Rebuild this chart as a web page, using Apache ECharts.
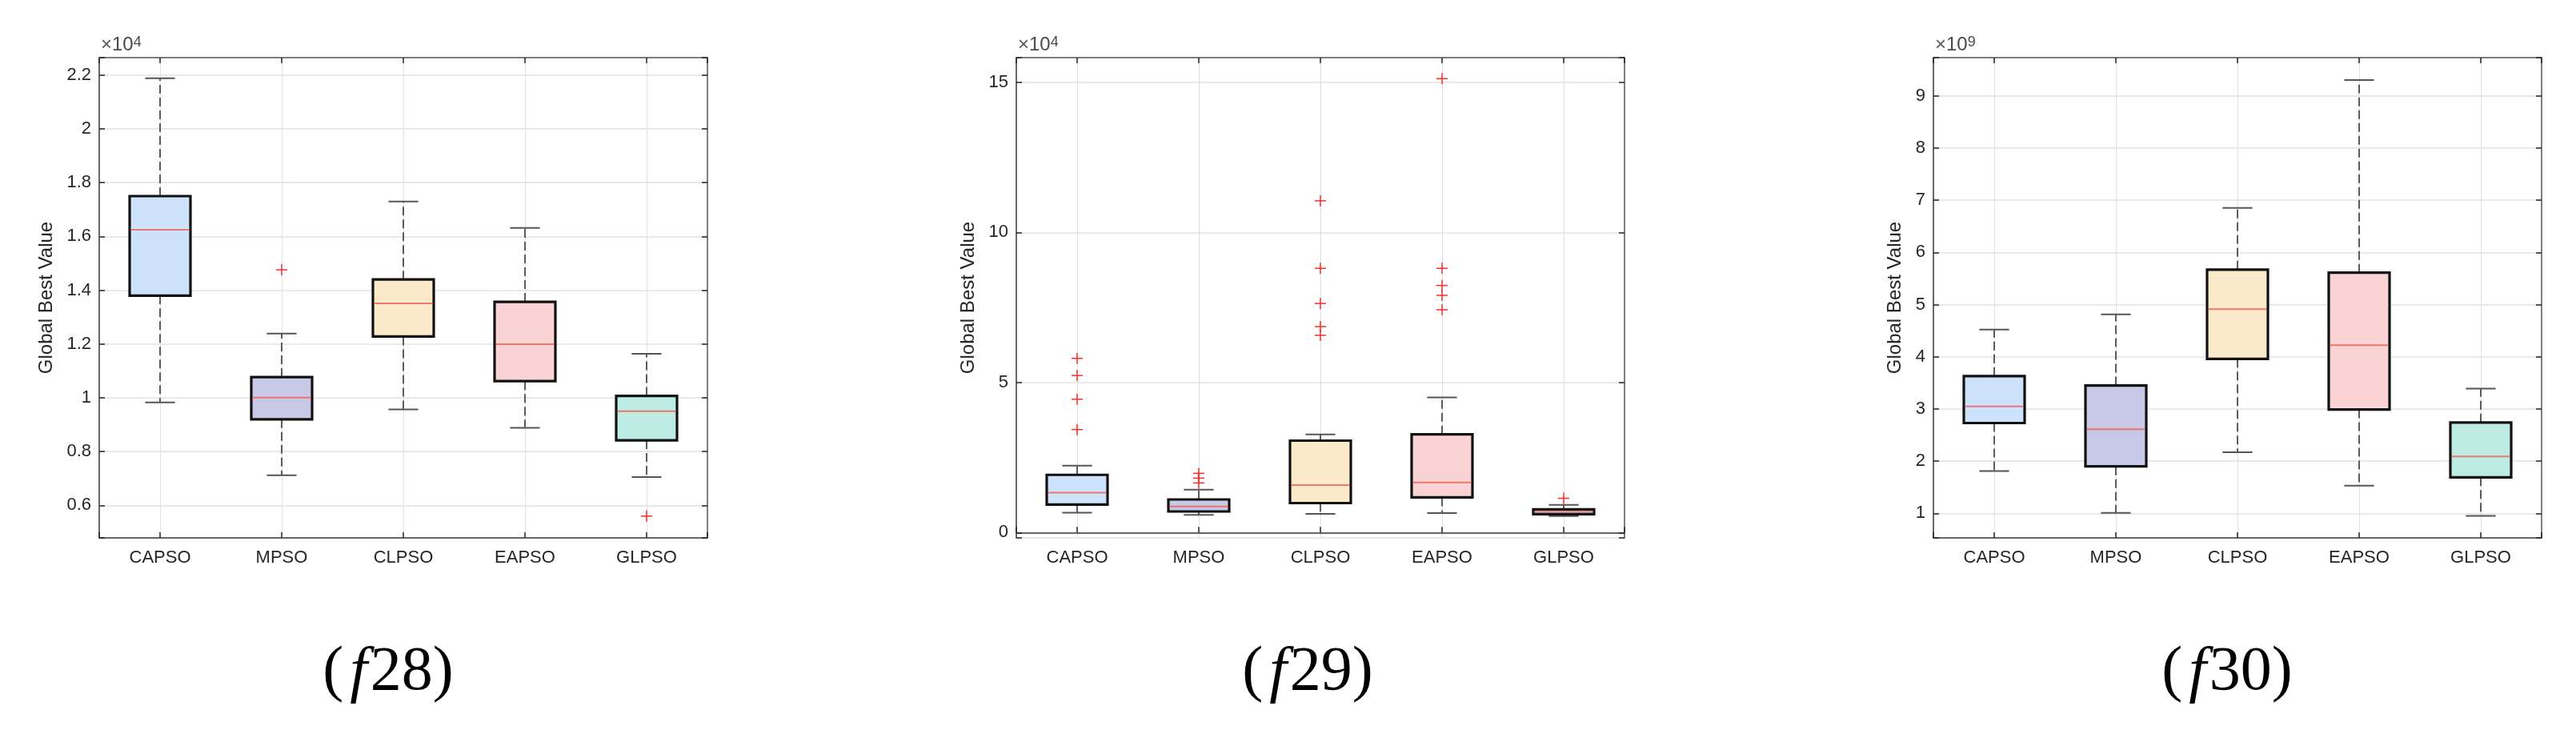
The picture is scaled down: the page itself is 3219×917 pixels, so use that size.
<!DOCTYPE html>
<html>
<head>
<meta charset="utf-8">
<script src="https://cdn.jsdelivr.net/npm/echarts@6/dist/echarts.min.js"></script>
<style>
html,body{margin:0;padding:0;background:#fff}
#main{width:3219px;height:917px}
</style>
</head>
<body>
<div id="main"></div>
<script>
var algorithms = ['CAPSO', 'MPSO', 'CLPSO', 'EAPSO', 'GLPSO'];
var boxColors = ['#cde2fb', '#c8c9e6', '#fcebcb', '#fad4d4', '#bfebe5'];

// each row: [lower whisker, Q1, median, Q3, upper whisker]
// f28, values x10^4
var f28Boxes = [
  [0.983, 1.380, 1.625, 1.750, 2.188],
  [0.712, 0.920, 1.001, 1.077, 1.239],
  [0.957, 1.228, 1.351, 1.440, 1.730],
  [0.888, 1.062, 1.199, 1.357, 1.632],
  [0.705, 0.842, 0.950, 1.007, 1.164]
];
var f28Outliers = [[1, 1.476], [4, 0.560]];
var f28Range = [0.479, 2.265];

// f29, values x10^4
var f29Boxes = [
  [0.66, 0.93, 1.33, 1.92, 2.23],
  [0.59, 0.70, 0.87, 1.10, 1.43],
  [0.62, 0.98, 1.58, 3.06, 3.27],
  [0.65, 1.17, 1.67, 3.27, 4.50],
  [0.55, 0.61, 0.69, 0.77, 0.92]
];
var f29Outliers = [
  [0, 5.80], [0, 5.23], [0, 4.44], [0, 3.43],
  [1, 1.97], [1, 1.81], [1, 1.65],
  [2, 11.05], [2, 8.80], [2, 7.63], [2, 6.86], [2, 6.57],
  [3, 15.12], [3, 8.80], [3, 8.23], [3, 7.90], [3, 7.42],
  [4, 1.14]
];
var f29Range = [-0.18, 15.82];

// f30, values x10^9
var f30Boxes = [
  [1.81, 2.73, 3.05, 3.63, 4.52],
  [1.01, 1.90, 2.61, 3.45, 4.81],
  [2.17, 3.96, 4.91, 5.67, 6.85],
  [1.53, 2.99, 4.22, 5.61, 9.30],
  [0.95, 1.69, 2.09, 2.74, 3.39]
];
var f30Outliers = [];
var f30Range = [0.53, 9.73];

var panels = [
  {boxes: f28Boxes, outliers: f28Outliers, range: f28Range, step: 0.2, exp: '4', tag: '28', left: 124, nameGap: 54, capX: 485},
  {boxes: f29Boxes, outliers: f29Outliers, range: f29Range, step: 5, exp: '4', tag: '29', left: 1270, nameGap: 48, capX: 1634},
  {boxes: f30Boxes, outliers: f30Outliers, range: f30Range, step: 1, exp: '9', tag: '30', left: 2416, nameGap: 36, capX: 2783}
];

var TOP = 72, W = 760, H = 600;
var FONT = "'Liberation Sans', Arial, Helvetica, sans-serif";
var SERIF = "'Liberation Serif', 'Times New Roman', serif";

function renderBox(params, api) {
  var i = api.value(0);
  var lo = api.coord([i, api.value(1)]);
  var q1 = api.coord([i, api.value(2)]);
  var md = api.coord([i, api.value(3)]);
  var q3 = api.coord([i, api.value(4)]);
  var hi = api.coord([i, api.value(5)]);
  var bw = api.size([0.5, 0])[0];
  var cw = api.size([0.245, 0])[0];
  var x = lo[0];
  var dash = {stroke: '#2b2b2b', lineWidth: 1.5, lineDash: [11, 5], fill: null};
  var cap = {stroke: '#555', lineWidth: 2, fill: null};
  return {
    type: 'group',
    children: [
      {type: 'line', shape: {x1: x, y1: q3[1], x2: x, y2: hi[1]}, style: dash},
      {type: 'line', shape: {x1: x, y1: q1[1], x2: x, y2: lo[1]}, style: dash},
      {type: 'line', shape: {x1: x - cw / 2, y1: hi[1], x2: x + cw / 2, y2: hi[1]}, style: cap},
      {type: 'line', shape: {x1: x - cw / 2, y1: lo[1], x2: x + cw / 2, y2: lo[1]}, style: cap},
      {type: 'rect', shape: {x: x - bw / 2, y: q3[1], width: bw, height: q1[1] - q3[1]},
        style: {fill: boxColors[i], stroke: '#111', lineWidth: 3.2}},
      {type: 'line', shape: {x1: x - bw / 2 + 1.5, y1: md[1], x2: x + bw / 2 - 1.5, y2: md[1]},
        style: {stroke: 'rgba(238,100,90,0.85)', lineWidth: 2}}
    ]
  };
}

function renderPlus(params, api) {
  var p = api.coord([api.value(0), api.value(1)]);
  var s = {stroke: '#ff2a2a', lineWidth: 1.5};
  return {
    type: 'group',
    children: [
      {type: 'line', shape: {x1: p[0] - 7, y1: p[1], x2: p[0] + 7, y2: p[1]}, style: s},
      {type: 'line', shape: {x1: p[0], y1: p[1] - 7, x2: p[0], y2: p[1] + 7}, style: s}
    ]
  };
}

function yFormatter(step) {
  return function (v) {
    var k = Math.round(v / step);
    if (Math.abs(v - k * step) > step * 1e-3) return '';
    return String(+(k * step).toFixed(2));
  };
}

function xFormatter(v) {
  var k = Math.round(v);
  if (Math.abs(v - k) > 1e-6 || !algorithms[k]) return '';
  return algorithms[k];
}

var grids = [], xAxes = [], yAxes = [], series = [], graphics = [];

panels.forEach(function (p, g) {
  grids.push({left: p.left, top: TOP, width: W, height: H, show: false});

  var xBase = {
    gridIndex: g, type: 'value', min: -0.5, max: 4.5,
    minInterval: 1, maxInterval: 1, splitNumber: 5
  };
  xAxes.push(Object.assign({}, xBase, {
    position: 'bottom',
    axisLine: {show: true, lineStyle: {color: '#3a3a3a', width: 1.5}},
    axisTick: {show: true, inside: true, length: 7, lineStyle: {color: '#262626', width: 1.5}},
    axisLabel: {formatter: xFormatter, color: '#262626', fontSize: 22, fontFamily: FONT, margin: 14},
    splitLine: {show: true, lineStyle: {color: '#e2e2e2', width: 1}}
  }));
  xAxes.push(Object.assign({}, xBase, {
    position: 'top',
    axisLine: {show: true, onZero: false, lineStyle: {color: '#5a5a5a', width: 1.5}},
    axisTick: {show: true, inside: true, length: 7, lineStyle: {color: '#262626', width: 1.5}},
    axisLabel: {show: false},
    splitLine: {show: false}
  }));

  var yBase = {
    gridIndex: g, type: 'value', min: p.range[0], max: p.range[1],
    minInterval: p.step, maxInterval: p.step,
    splitNumber: Math.round((p.range[1] - p.range[0]) / p.step)
  };
  yAxes.push(Object.assign({}, yBase, {
    position: 'left',
    name: 'Global Best Value', nameLocation: 'middle', nameGap: p.nameGap,
    nameTextStyle: {color: '#262626', fontSize: 24, fontFamily: FONT},
    axisLine: {show: true, onZero: false, lineStyle: {color: '#3a3a3a', width: 1.5}},
    axisTick: {show: true, inside: true, length: 7, lineStyle: {color: '#262626', width: 1.5}},
    axisLabel: {formatter: yFormatter(p.step), color: '#262626', fontSize: 22, fontFamily: FONT, margin: 10},
    splitLine: {show: true, lineStyle: {color: '#e2e2e2', width: 1.5}}
  }));
  yAxes.push(Object.assign({}, yBase, {
    position: 'right',
    axisLine: {show: true, onZero: false, lineStyle: {color: '#5a5a5a', width: 1.5}},
    axisTick: {show: true, inside: true, length: 7, lineStyle: {color: '#262626', width: 1.5}},
    axisLabel: {show: false},
    splitLine: {show: false}
  }));

  series.push({
    type: 'custom', xAxisIndex: 2 * g, yAxisIndex: 2 * g,
    renderItem: renderBox,
    encode: {x: 0, y: [1, 2, 3, 4, 5]},
    data: p.boxes.map(function (b, i) { return [i].concat(b); }),
    z: 3
  });
  series.push({
    type: 'custom', xAxisIndex: 2 * g, yAxisIndex: 2 * g,
    renderItem: renderPlus,
    encode: {x: 0, y: 1},
    data: p.outliers,
    z: 4
  });

  graphics.push({
    type: 'text', x: p.left + 2, y: TOP - 4,
    style: {
      text: '{a|×}{b|10}{c|' + p.exp + '}',
      verticalAlign: 'bottom',
      rich: {
        a: {fontSize: 24, fontFamily: FONT, fill: '#5a5a5a', verticalAlign: 'bottom'},
        b: {fontSize: 24, fontFamily: FONT, fill: '#4a4a4a', verticalAlign: 'bottom'},
        c: {fontSize: 18, fontFamily: FONT, fill: '#4a4a4a', verticalAlign: 'top'}
      }
    }
  });
  graphics.push({
    type: 'text', x: p.capX, y: 841,
    style: {
      text: '{p|(}{i|f}{p|' + p.tag + ')}',
      align: 'center', verticalAlign: 'middle',
      rich: {
        p: {fontSize: 78, fontFamily: SERIF, fill: '#000'},
        i: {fontSize: 78, fontFamily: SERIF, fontStyle: 'italic', fill: '#000', padding: [0, 4, 0, 8]}
      }
    }
  });
});

var chart = echarts.init(document.getElementById('main'), null, {renderer: 'canvas'});
chart.setOption({
  backgroundColor: '#fff',
  animation: false,
  grid: grids,
  xAxis: xAxes,
  yAxis: yAxes,
  series: series,
  graphic: graphics
});
</script>
</body>
</html>
